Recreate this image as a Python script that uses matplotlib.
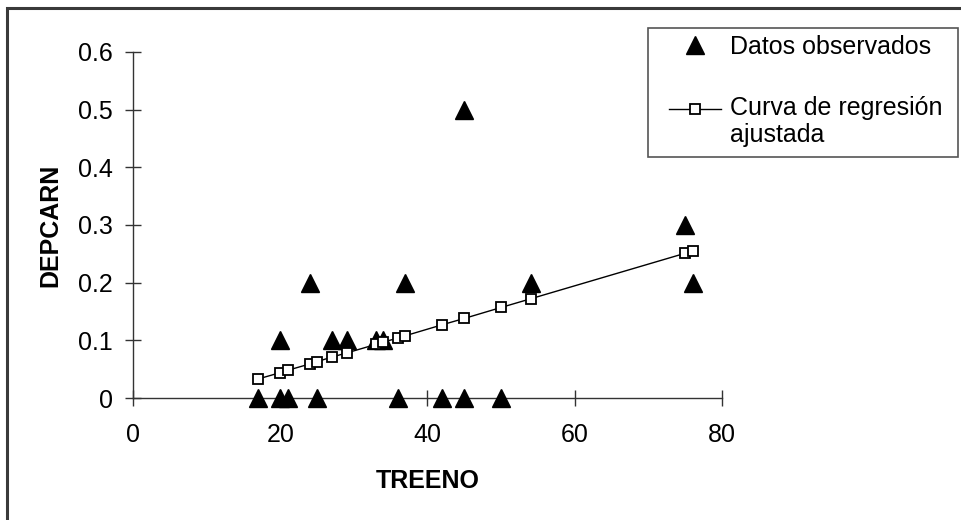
import matplotlib
matplotlib.use('Agg')
import matplotlib.pyplot as plt
import numpy as np
from matplotlib.patches import Rectangle
from matplotlib.legend_handler import HandlerLine2D

plt.rcParams['font.family'] = ['Liberation Sans', 'DejaVu Sans']

# Datos observados (TREENO, DEPCARN)
obs_x = [17, 20, 21, 25, 36, 42, 45, 50,
         20, 27, 29, 33, 34,
         24, 37, 54, 76,
         75, 45]
obs_y = [0, 0, 0, 0, 0, 0, 0, 0,
         0.1, 0.1, 0.1, 0.1, 0.1,
         0.2, 0.2, 0.2, 0.2,
         0.3, 0.5]

# Curva de regresion ajustada
fit_x = [17, 20, 21, 24, 25, 27, 29, 33, 34, 36, 37, 42, 45, 50, 54, 75, 76]
fit_y = [0.033, 0.044, 0.048, 0.059, 0.063, 0.071, 0.078, 0.093, 0.097,
         0.104, 0.108, 0.127, 0.138, 0.157, 0.172, 0.251, 0.255]

xticks = [0, 20, 40, 60, 80]
yticks = [0, 0.1, 0.2, 0.3, 0.4, 0.5, 0.6]
ytick_labels = ['0', '0.1', '0.2', '0.3', '0.4', '0.5', '0.6']


class HandlerArriba(HandlerLine2D):
    # sube el simbolo de la leyenda a la altura de la primera linea del texto
    def create_artists(self, legend, orig_handle, xdescent, ydescent, width,
                       height, fontsize, trans):
        arts = super().create_artists(legend, orig_handle, xdescent, ydescent,
                                      width, height, fontsize, trans)
        for a in arts:
            a.set_ydata(np.asarray(a.get_ydata()) + 0.55 * fontsize)
        return arts


W, H = 962, 520
fig = plt.figure(figsize=(W / 100, H / 100), dpi=100)
ax = fig.add_axes([133 / W, 1 - 398 / H, (722 - 133) / W, (398 - 52) / H])

gris = '#333333'
ax.plot(obs_x, obs_y, linestyle='none', marker='^', markersize=13,
        color='black', clip_on=False, zorder=3, label='Datos observados')
curva, = ax.plot(fit_x, fit_y, color='black', linewidth=1, marker='s', markersize=7,
                 markerfacecolor='white', markeredgecolor='black', markeredgewidth=1.3,
                 clip_on=False, zorder=4, label='Curva de regresión\najustada')

ax.set_xlim(0, 80)
ax.set_ylim(0, 0.6)
ax.set_xticks(xticks)
ax.set_xticklabels([str(t) for t in xticks])
ax.set_yticks(yticks)
ax.set_yticklabels(ytick_labels)
ax.tick_params(direction='inout', length=11.5, width=1, color=gris,
               labelsize=18)
ax.tick_params(axis='x', pad=12)
ax.tick_params(axis='y', pad=9)
for s in ['top', 'right']:
    ax.spines[s].set_visible(False)
for s in ['left', 'bottom']:
    ax.spines[s].set_color(gris)
    ax.spines[s].set_linewidth(1)

ax.set_xlabel('TREENO', fontsize=18, fontweight='bold', labelpad=16)
ax.set_ylabel('DEPCARN', fontsize=18, fontweight='bold', labelpad=11)

leg = ax.legend(loc='upper left', bbox_to_anchor=(669 / W, 1 - 35 / H),
                bbox_transform=fig.transFigure, borderaxespad=0, borderpad=0,
                fontsize=18, frameon=False, handlelength=2.1,
                labelspacing=1.5, handletextpad=0.33,
                handler_map={curva: HandlerArriba()})
for t in leg.get_texts():
    t.set_linespacing(1.15)

# recuadro de la leyenda
fig.patches.append(Rectangle((648 / W, 1 - 157 / H), (958 - 648) / W, (157 - 28) / H,
                             transform=fig.transFigure, fill=False,
                             edgecolor='#555555', linewidth=1.2))

# marco exterior del grafico
fig.patches.append(Rectangle((7 / W, -0.1), 2, 1.1 - 8 / H, transform=fig.transFigure,
                             fill=False, edgecolor='#3a3a3a', linewidth=2.2))

fig.savefig('out.png', dpi=100)
